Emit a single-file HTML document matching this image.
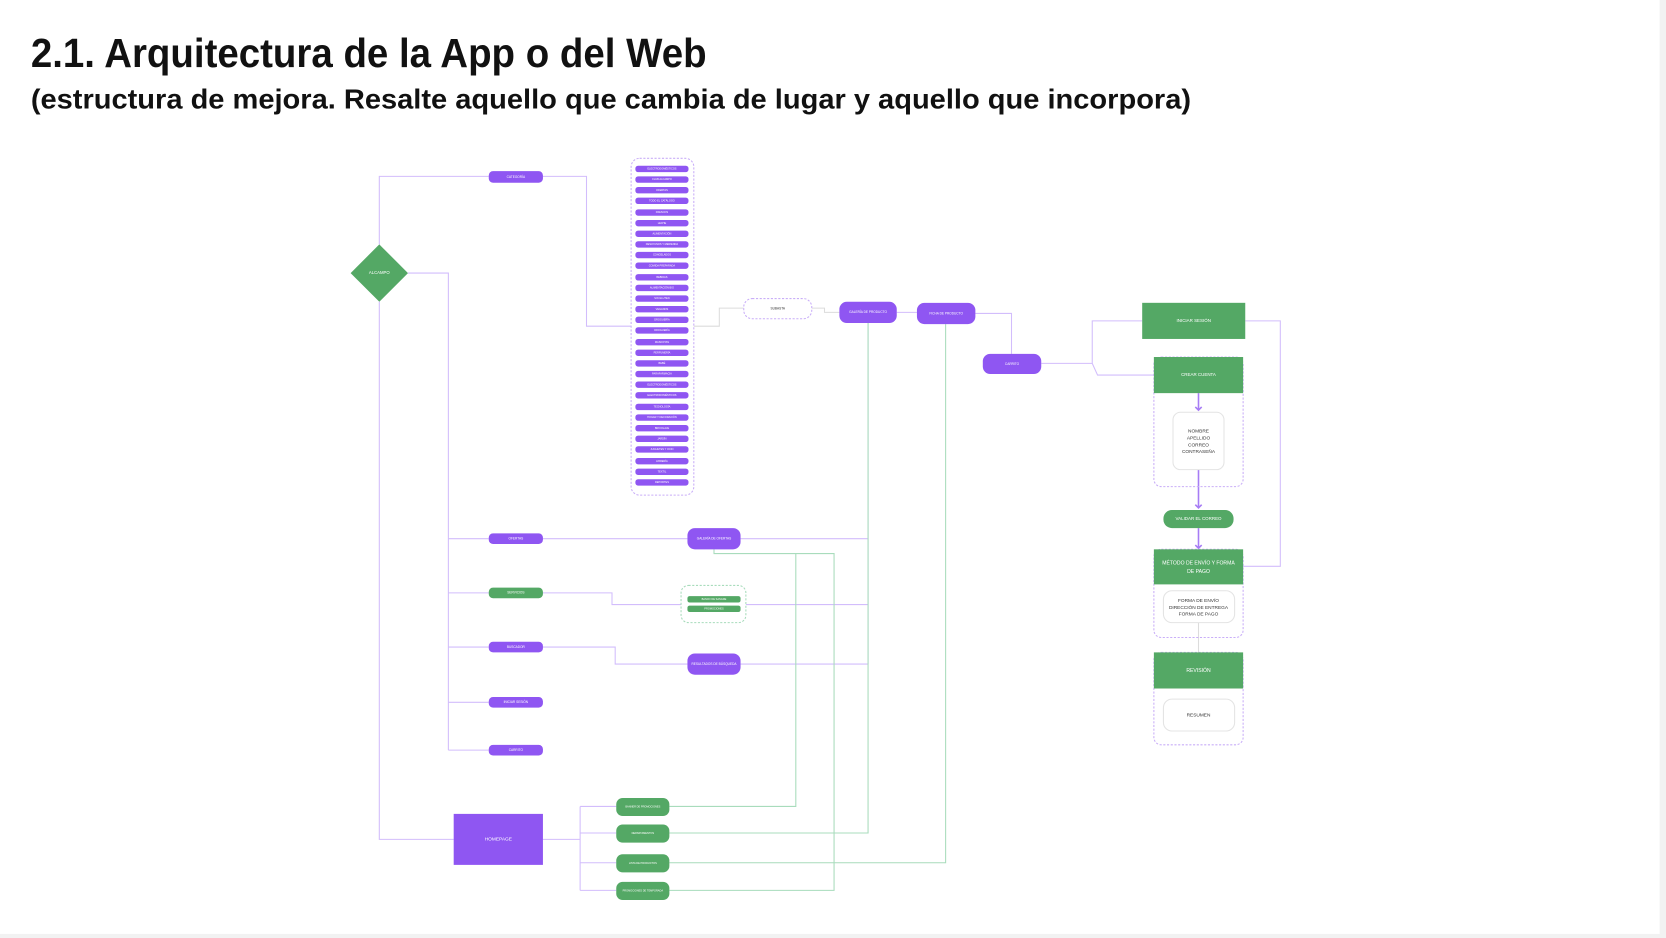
<!DOCTYPE html>
<html><head><meta charset="utf-8"><style>
html,body{margin:0;padding:0;background:#f2f2f2;}
svg{display:block;}
text{font-family:"Liberation Sans",sans-serif;}
.t{fill:#fff;text-anchor:middle;dominant-baseline:middle;}
.d{fill:#333;font-size:4.5px;text-anchor:middle;}
</style></head><body>
<svg width="1666" height="938" viewBox="0 0 1568 882.8" xmlns="http://www.w3.org/2000/svg">
<rect x="0" y="0" width="1562" height="879" fill="#fff"/>
<text x="29" y="63" font-size="38" font-weight="bold" fill="#111" textLength="636" lengthAdjust="spacingAndGlyphs">2.1. Arquitectura de la App o del Web</text>
<text x="29" y="102" font-size="26" font-weight="bold" fill="#111" textLength="1092" lengthAdjust="spacingAndGlyphs">(estructura de mejora. Resalte aquello que cambia de lugar y aquello que incorpora)</text>

<g fill="none" stroke="#d2bdfc" stroke-width="1">
<path d="M357 230V166H460"/>
<path d="M511 166H552V307H594"/>
<path d="M384 257H422V706"/>
<path d="M422 507H460M422 558H460M422 609H460M422 661H460M422 706H460"/>
<path d="M357 284V790H427"/>
<path d="M511 790H546M546 759V838M546 759H580M546 784H580M546 812H580M546 838H580"/>
<path d="M511 507H647M697 507H817"/>
<path d="M511 558H576V569H641M702 569H817"/>
<path d="M511 609H579V625H647M697 625H817"/>
<path d="M817 304V625"/>
<path d="M844 294H863M918 295H952V333"/>
<path d="M980 342H1028V302H1075M1028 342L1033 353H1086"/>
<path d="M1172 302H1205V533H1170"/>
</g>
<g fill="none" stroke="#dcdcdc" stroke-width="1">
<path d="M653 307H677V290H700M764 290H776V294H790"/>
<path d="M1128 586V614"/>
</g>
<g fill="none" stroke="#a8dcbc" stroke-width="1">
<path d="M672 517V521H785V838H630"/>
<path d="M749 521V759H630"/>
<path d="M817 304V784H630"/>
<path d="M890 305V812H630"/>
</g>
<g stroke="#a77cf5" stroke-width="1.5" fill="none">
<path d="M1128 370V386M1125 383L1128 386L1131 383"/>
<path d="M1128 442V478M1125 475L1128 478L1131 475"/>
<path d="M1128 497V516M1125 513L1128 516L1131 513"/>
</g>

<polygon points="357,230 384,257 357,284 330,257" fill="#54a865"/>
<text x="357" y="257" class="t" style="font-size:4px">ALCAMPO</text>

<rect x="460" y="161" width="51" height="11" rx="4" fill="#8f56f2"/>
<text x="485.5" y="166.5" class="t" style="font-size:3px">CATEGORÍA</text>

<rect x="594" y="149" width="59" height="317" rx="8" fill="none" stroke="#c9aef8" stroke-dasharray="2 1.5"/>
<g fill="#8f56f2">
<rect x="598" y="156" width="50" height="6" rx="2.5"/><rect x="598" y="166" width="50" height="6" rx="2.5"/><rect x="598" y="176" width="50" height="6" rx="2.5"/><rect x="598" y="186" width="50" height="6" rx="2.5"/><rect x="598" y="197" width="50" height="6" rx="2.5"/><rect x="598" y="207" width="50" height="6" rx="2.5"/><rect x="598" y="217" width="50" height="6" rx="2.5"/><rect x="598" y="227" width="50" height="6" rx="2.5"/><rect x="598" y="237" width="50" height="6" rx="2.5"/><rect x="598" y="247" width="50" height="6" rx="2.5"/><rect x="598" y="258" width="50" height="6" rx="2.5"/><rect x="598" y="268" width="50" height="6" rx="2.5"/><rect x="598" y="278" width="50" height="6" rx="2.5"/><rect x="598" y="288" width="50" height="6" rx="2.5"/><rect x="598" y="298" width="50" height="6" rx="2.5"/><rect x="598" y="308" width="50" height="6" rx="2.5"/><rect x="598" y="319" width="50" height="6" rx="2.5"/><rect x="598" y="329" width="50" height="6" rx="2.5"/><rect x="598" y="339" width="50" height="6" rx="2.5"/><rect x="598" y="349" width="50" height="6" rx="2.5"/><rect x="598" y="359" width="50" height="6" rx="2.5"/><rect x="598" y="369" width="50" height="6" rx="2.5"/><rect x="598" y="380" width="50" height="6" rx="2.5"/><rect x="598" y="390" width="50" height="6" rx="2.5"/><rect x="598" y="400" width="50" height="6" rx="2.5"/><rect x="598" y="410" width="50" height="6" rx="2.5"/><rect x="598" y="420" width="50" height="6" rx="2.5"/><rect x="598" y="431" width="50" height="6" rx="2.5"/><rect x="598" y="441" width="50" height="6" rx="2.5"/><rect x="598" y="451" width="50" height="6" rx="2.5"/>
</g>
<g style="font-size:2.4px">
<text x="623" y="159" class="t">ELECTRODOMÉSTICOS</text><text x="623" y="169" class="t">CLUB ALCAMPO</text><text x="623" y="179" class="t">OFERTAS</text><text x="623" y="189" class="t">TODO EL CATÁLOGO</text><text x="623" y="200" class="t">FRESCOS</text><text x="623" y="210" class="t">LECHE</text><text x="623" y="220" class="t">ALIMENTACIÓN</text><text x="623" y="230" class="t">DESAYUNOS Y MERIENDA</text><text x="623" y="240" class="t">CONGELADOS</text><text x="623" y="250" class="t">COMIDA PREPARADA</text><text x="623" y="261" class="t">BEBIDAS</text><text x="623" y="271" class="t">ALIMENTACIÓN BIO</text><text x="623" y="281" class="t">SIN GLUTEN</text><text x="623" y="291" class="t">VEGANOS</text><text x="623" y="301" class="t">DROGUERÍA</text><text x="623" y="311" class="t">DROGUERÍA</text><text x="623" y="322" class="t">MASCOTAS</text><text x="623" y="332" class="t">PERFUMERÍA</text><text x="623" y="342" class="t">BEBÉ</text><text x="623" y="352" class="t">PARAFARMACIA</text><text x="623" y="362" class="t">ELECTRODOMÉSTICOS</text><text x="623" y="372" class="t">ELECTRODOMÉSTICOS</text><text x="623" y="383" class="t">TECNOLOGÍA</text><text x="623" y="393" class="t">HOGAR Y DECORACIÓN</text><text x="623" y="403" class="t">BRICOLAJE</text><text x="623" y="413" class="t">JARDÍN</text><text x="623" y="423" class="t">JUGUETES Y OCIO</text><text x="623" y="434" class="t">LIBRERÍA</text><text x="623" y="444" class="t">TEXTIL</text><text x="623" y="454" class="t">DEPORTES</text>
</g>

<g style="font-size:3px">
<rect x="700" y="281" width="64" height="19" rx="8" fill="#fff" stroke="#c9aef8" stroke-dasharray="2 1.5"/>
<text x="732" y="290.5" class="t" style="fill:#333">SUBASTA</text>
<rect x="790" y="284" width="54" height="20" rx="7" fill="#8f56f2"/>
<text x="817" y="294" class="t">GALERÍA DE PRODUCTO</text>
<rect x="863" y="285" width="55" height="20" rx="7" fill="#8f56f2"/>
<text x="890.5" y="295" class="t">FICHA DE PRODUCTO</text>
<rect x="925" y="333" width="55" height="19" rx="7" fill="#8f56f2"/>
<text x="952.5" y="342.5" class="t">CARRITO</text>

<rect x="460" y="502" width="51" height="10" rx="4" fill="#8f56f2"/><text x="485.5" y="507" class="t">OFERTAS</text>
<rect x="460" y="553" width="51" height="10" rx="4" fill="#54a865"/><text x="485.5" y="558" class="t">SERVICIOS</text>
<rect x="460" y="604" width="51" height="10" rx="4" fill="#8f56f2"/><text x="485.5" y="609" class="t">BUSCADOR</text>
<rect x="460" y="656" width="51" height="10" rx="4" fill="#8f56f2"/><text x="485.5" y="661" class="t">INICIAR SESIÓN</text>
<rect x="460" y="701" width="51" height="10" rx="4" fill="#8f56f2"/><text x="485.5" y="706" class="t">CARRITO</text>

<rect x="647" y="497" width="50" height="20" rx="7" fill="#8f56f2"/><text x="672" y="507" class="t">GALERÍA DE OFERTAS</text>
<rect x="641" y="551" width="61" height="35" rx="7" fill="#fff" stroke="#a8dcbc" stroke-dasharray="2 1.5"/>
<rect x="647" y="561" width="50" height="6" rx="2" fill="#54a865"/><text x="672" y="564" class="t" style="font-size:2.4px">BANCO DE SANGRE</text>
<rect x="647" y="570" width="50" height="6" rx="2" fill="#54a865"/><text x="672" y="573" class="t" style="font-size:2.4px">PROMOCIONES</text>
<rect x="647" y="615" width="50" height="20" rx="7" fill="#8f56f2"/><text x="672" y="625" class="t">RESULTADOS DE BÚSQUEDA</text>
</g>

<rect x="427" y="766" width="84" height="48" fill="#8f56f2"/><text x="469" y="790" class="t" style="font-size:4.5px">HOMEPAGE</text>
<g style="font-size:2.4px">
<rect x="580" y="751" width="50" height="17" rx="6" fill="#54a865"/><text x="605" y="759.5" class="t">BANNER DE PROMOCIONES</text>
<rect x="580" y="776" width="50" height="17" rx="6" fill="#54a865"/><text x="605" y="784.5" class="t">DEPARTAMENTOS</text>
<rect x="580" y="804" width="50" height="17" rx="6" fill="#54a865"/><text x="605" y="812.5" class="t">LISTA DE PRODUCTOS</text>
<rect x="580" y="830" width="50" height="17" rx="6" fill="#54a865"/><text x="605" y="838.5" class="t">PROMOCIONES DE TEMPORADA</text>
</g>

<rect x="1075" y="285" width="97" height="34" fill="#54a865"/><text x="1123.5" y="302" class="t" style="font-size:4.2px">INICIAR SESIÓN</text>
<rect x="1086" y="336" width="84" height="122" rx="7" fill="none" stroke="#c9aef8" stroke-dasharray="2 1.5"/>
<rect x="1086" y="336" width="84" height="34" fill="#54a865"/><text x="1128" y="353" class="t" style="font-size:4.2px">CREAR CUENTA</text>
<rect x="1104" y="388" width="48" height="54" rx="7" fill="#fff" stroke="#e4e4e4"/>
<text x="1128" y="407" class="d">NOMBRE</text><text x="1128" y="413.5" class="d">APELLIDO</text><text x="1128" y="420" class="d">CORREO</text><text x="1128" y="426.5" class="d">CONTRASEÑA</text>
<rect x="1095" y="480" width="66" height="17" rx="8" fill="#54a865"/><text x="1128" y="488.5" class="t" style="font-size:4.2px">VALIDAR EL CORREO</text>
<rect x="1086" y="517" width="84" height="83" rx="7" fill="none" stroke="#c9aef8" stroke-dasharray="2 1.5"/>
<rect x="1086" y="517" width="84" height="33" fill="#54a865"/>
<text x="1128" y="530" class="t" style="font-size:4.8px">MÉTODO DE ENVÍO Y FORMA</text><text x="1128" y="538" class="t" style="font-size:4.8px">DE PAGO</text>
<rect x="1095" y="556" width="67" height="30" rx="8" fill="#fff" stroke="#e4e4e4"/>
<text x="1128" y="566.5" class="d">FORMA DE ENVÍO</text><text x="1128" y="573" class="d">DIRECCIÓN DE ENTREGA</text><text x="1128" y="579.5" class="d">FORMA DE PAGO</text>
<rect x="1086" y="614" width="84" height="87" rx="7" fill="none" stroke="#c9aef8" stroke-dasharray="2 1.5"/>
<rect x="1086" y="614" width="84" height="34" fill="#54a865"/><text x="1128" y="631" class="t" style="font-size:4.8px">REVISIÓN</text>
<rect x="1095" y="658" width="67" height="30" rx="8" fill="#fff" stroke="#e4e4e4"/>
<text x="1128" y="674.5" class="d">RESUMEN</text>
</svg>
</body></html>
